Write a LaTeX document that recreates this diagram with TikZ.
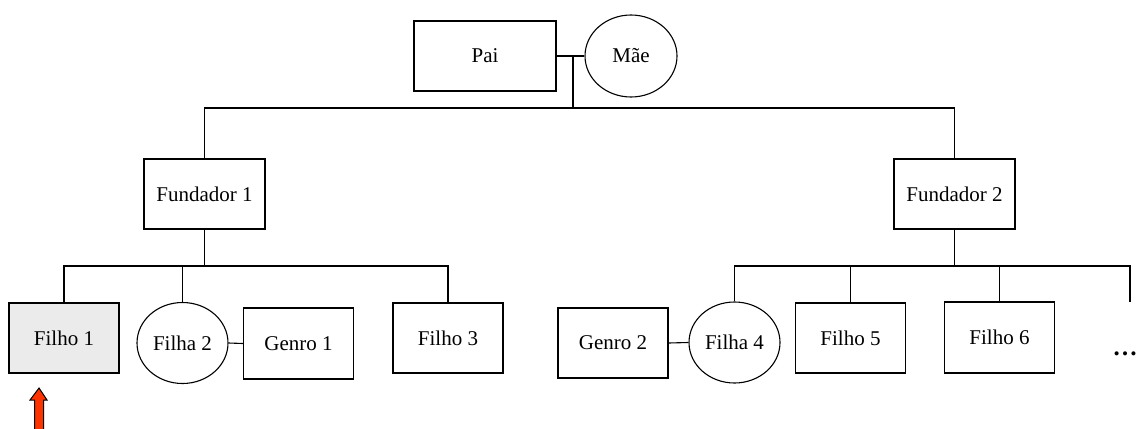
\documentclass[tikz,border=0pt]{standalone}
\usepackage{fontspec}
\setmainfont{Liberation Serif}
\usetikzlibrary{shapes.geometric}
\begin{document}
\begin{tikzpicture}[x=1pt,y=-1pt,
  every node/.style={font=\fontsize{21}{25}\selectfont, inner sep=0pt},
  pbox/.style={draw, line width=1.1pt, rectangle, minimum width=#1, minimum height=70},
  pbox/.default=110,
  fcirc/.style={draw, line width=1.1pt, ellipse, minimum width=91, minimum height=81},
  conn/.style={line width=1.1pt},
  bus/.style={line width=1.5pt}]
\useasboundingbox (0,0) rectangle (1139,428);
% generation 0
\node[pbox=142] (pai) at (485,56) {Pai};
\node[fcirc, minimum width=92, minimum height=82] (mae) at (631,56) {Mãe};
% generation 1
\node[pbox=121] (f1) at (204.5,194) {Fundador 1};
\node[pbox=121] (f2) at (954.5,194) {Fundador 2};
% generation 2
\node[pbox, fill={rgb,255:red,235;green,235;blue,235}] (filho1) at (64,338) {Filho 1};
\node[fcirc] (filha2) at (182.5,343) {Filha 2};
\node[pbox, minimum height=71] (genro1) at (298.5,343.5) {Genro 1};
\node[pbox] (filho3) at (448,338) {Filho 3};
\node[pbox] (genro2) at (613,343) {Genro 2};
\node[fcirc] (filha4) at (734.5,342.5) {Filha 4};
\node[pbox] (filho5) at (850.5,338) {Filho 5};
\node[pbox, minimum height=71] (filho6) at (999.5,337.5) {Filho 6};
\node[anchor=base, font=\fontsize{25}{28}\selectfont\bfseries] (dots) at (1125,355) {\dots};
\coordinate (more) at (1130,302);
% couple and top bus
\coordinate (cp) at (573,56);
\coordinate (top) at (573,108);
\draw[conn] (pai.east) -- (mae.west);
\draw[conn] (cp) -- (top);
\draw[conn] (f1.north) |- (top) -| (f2.north);
% Fundador 1 family
\coordinate (b1) at (204.5,266);
\draw[bus] (f1.south) -- (b1);
\draw[conn] (filho1.north) |- (b1) -| (filho3.north);
\draw[conn] (filha2.north) -- (filha2.north |- b1);
\draw[conn] (filha2.east) -- (genro1.west);
% Fundador 2 family
\coordinate (b2) at (954.5,266);
\draw[bus] (f2.south) -- (b2);
\draw[conn] (filha4.north) |- (b2) -| (more);
\draw[conn] (filho5.north) -- (filho5.north |- b2);
\draw[conn] (filho6.north) -- (filho6.north |- b2);
\draw[conn] (genro2.east) -- (filha4.west);
% red arrow
\draw[line width=1pt, fill={rgb,255:red,255;green,51;blue,0}]
  (39,388) -- (47,400) -- (43.5,400) -- (43.5,430) -- (34.5,430) -- (34.5,400) -- (30,400) -- cycle;
\end{tikzpicture}
\end{document}
